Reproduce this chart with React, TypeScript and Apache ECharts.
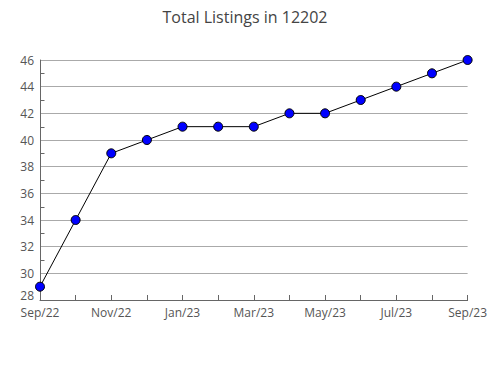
import React, { useEffect, useRef } from "react";
import * as echarts from "echarts";

const categories = ["Sep/22", "Oct/22", "Nov/22", "Dec/22", "Jan/23", "Feb/23", "Mar/23", "Apr/23", "May/23", "Jun/23", "Jul/23", "Aug/23", "Sep/23"];
const listings = [29, 34, 39, 40, 41, 41, 41, 42, 42, 43, 44, 45, 46];
const titleText = "Total Listings in 12202";
const yMin = 28;
const yMax = 46;
const minorTickValues = [29, 31, 33, 35, 37, 39, 41, 43, 45];

export default function App() {
  const ref = useRef<HTMLDivElement>(null);
  useEffect(() => {
    if (!ref.current) return;
    const chart = echarts.init(ref.current, undefined, { renderer: "svg" });
    chart.setOption({
      animation: false,
      title: {
        text: titleText,
        left: "center",
        top: 4,
        textStyle: { fontFamily: "Open Sans", fontWeight: "normal", fontSize: 16, color: "#444" },
      },
      grid: { left: 40, right: 18, top: 60, bottom: 80, containLabel: false },
      xAxis: {
        type: "category",
        data: categories,
        boundaryGap: false,
        axisLine: { lineStyle: { color: "#666", width: 1 } },
        axisTick: { show: true, inside: true, length: 5, interval: 0, lineStyle: { color: "#666" } },
        axisLabel: { interval: 1, color: "#555", fontFamily: "Open Sans", fontSize: 12, margin: 6, lineHeight: 12 },
        splitLine: { show: false },
      },
      yAxis: {
        type: "value",
        min: yMin,
        max: yMax,
        interval: 2,
        axisLine: { show: true, lineStyle: { color: "#666", width: 1 } },
        axisTick: { show: false },
        axisLabel: { color: "#555", fontFamily: "Open Sans", fontSize: 12, margin: 6, showMinLabel: false },
        splitLine: { show: true, lineStyle: { color: "#aaa", width: 1 } },
      },
      series: [
        {
          type: "custom",
          silent: true,
          z: 1,
          data: minorTickValues.map((v) => [0, v]),
          renderItem: (params: any, api: any) => {
            const pt = api.coord([api.value(0), api.value(1)]);
            const x = Math.round(pt[0]) + 0.5;
            const y = Math.round(pt[1]) + 0.5;
            return {
              type: "line",
              shape: { x1: x, y1: y, x2: x + 4, y2: y },
              style: { stroke: "#666", lineWidth: 1 },
            };
          },
        },
        {
          type: "line",
          data: listings,
          symbol: "circle",
          symbolSize: 9,
          z: 3,
          lineStyle: { color: "#000", width: 1 },
          itemStyle: { color: "#0000ff", borderColor: "#000", borderWidth: 1 },
        },
      ],
    });
    const p = chart.convertToPixel({ gridIndex: 0 }, [0, yMin]) as number[];
    chart.setOption({
      graphic: [
        {
          type: "text",
          x: p[0] - 6,
          y: p[1] - 5,
          style: { text: String(yMin), fill: "#555", font: "12px 'Open Sans'", lineHeight: 12, align: "right", verticalAlign: "middle" },
        },
      ],
    });
    return () => chart.dispose();
  }, []);
  return <div ref={ref} style={{ width: 490, height: 380, position: "absolute", left: 0, top: 0 }} />;
}
